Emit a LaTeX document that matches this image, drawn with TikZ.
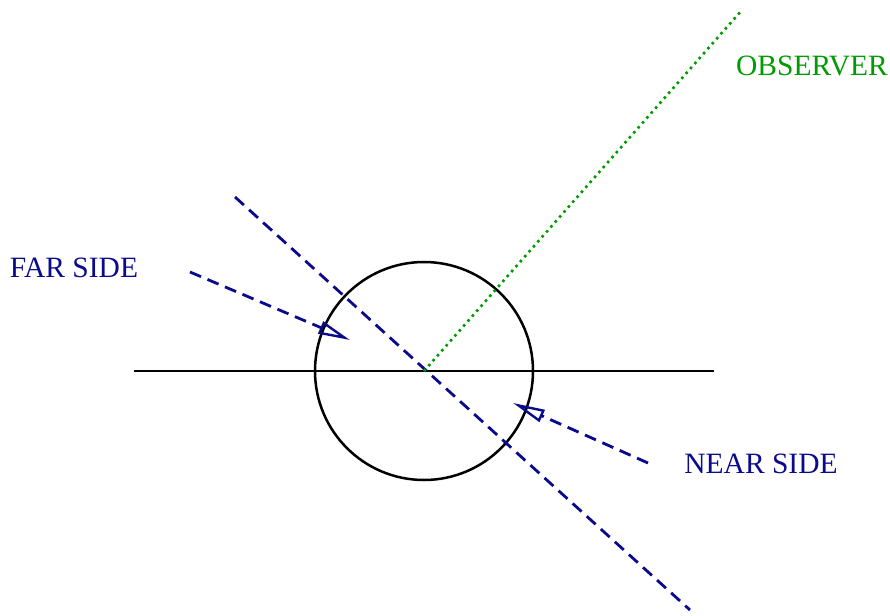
\documentclass[tikz,border=0pt]{standalone}
\usepackage{fontspec}
\setmainfont{Liberation Serif}
\usetikzlibrary{arrows.meta}
\definecolor{navy}{RGB}{10,10,140}
\definecolor{obsgreen}{RGB}{0,155,0}
\begin{document}
\begin{tikzpicture}[x=1pt,y=-1pt,
  bluedash/.style={navy,line width=2.8pt,dash pattern=on 12pt off 7pt},
  sidearrow/.style={bluedash,-{Triangle[open,length=32pt,width=13pt,line width=2.4pt]}},
  lbl/.style={font=\fontsize{29.5}{32}\selectfont,inner sep=0pt}]
\useasboundingbox (0,0) rectangle (890,615);
\coordinate (c) at (424,371);
\draw[line width=2.5pt] (c) circle[radius=109];
\coordinate (hl) at (134,371);
\coordinate (hr) at (714,371);
\draw[line width=2.3pt] (hl) -- (hr);
\coordinate (d1) at (235,197);
\coordinate (d2) at (690,610);
\draw[bluedash] (d1) -- (d2);
\coordinate (obs) at (742,10);
\draw[obsgreen,line width=2.6pt,dash pattern=on 2.6pt off 4pt] (c) -- (obs);
\coordinate (fs) at (190,272);
\coordinate (fe) at (350,340);
\draw[sidearrow] (fs) -- (fe);
\coordinate (ns) at (648,463);
\coordinate (ne) at (513,403);
\draw[sidearrow] (ns) -- (ne);
\node[lbl,navy] (far) at (74,268) {FAR SIDE};
\node[lbl,navy] (near) at (761,464) {NEAR SIDE};
\node[lbl,obsgreen] (ob) at (812,66) {OBSERVER};
\end{tikzpicture}
\end{document}
